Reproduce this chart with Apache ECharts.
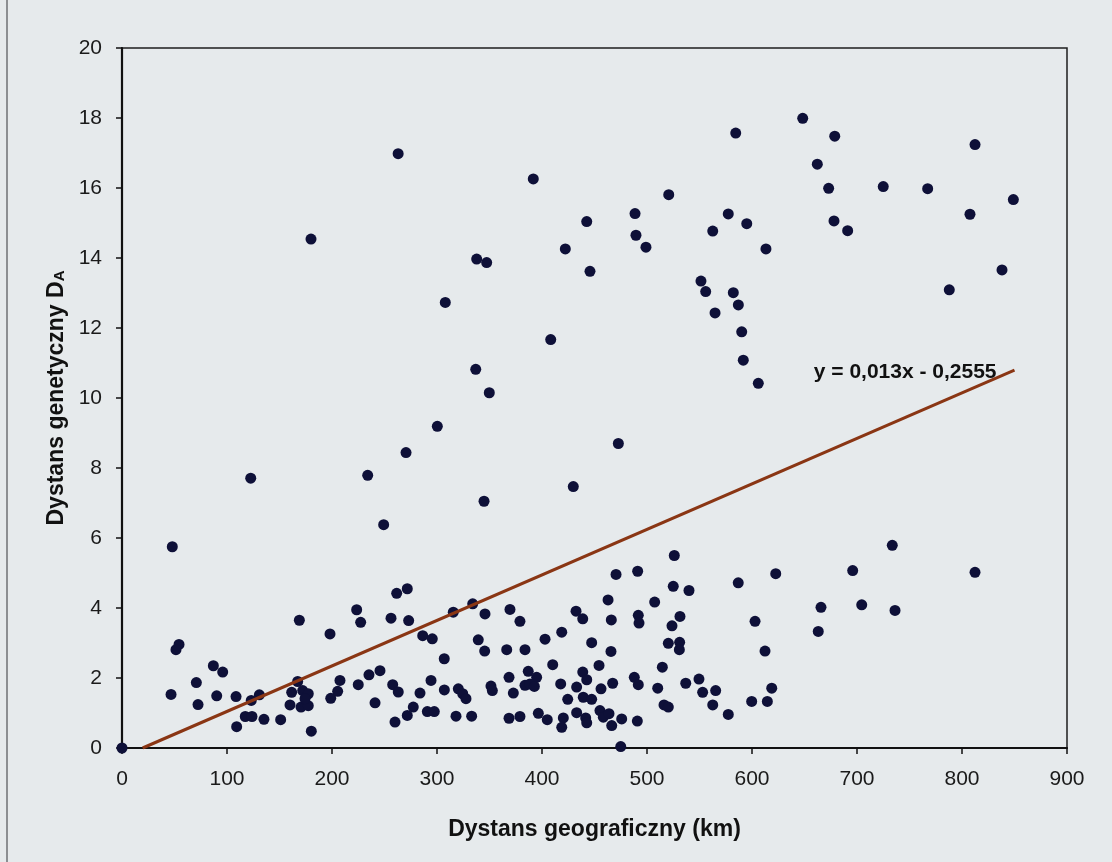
<!DOCTYPE html>
<html>
<head>
<meta charset="utf-8">
<title>Dystans genetyczny a dystans geograficzny</title>
<script src="https://cdn.jsdelivr.net/npm/echarts@6/dist/echarts.min.js"></script>
<style>
  html, body { margin: 0; padding: 0; background: #e6eaec; }
  #chart { width: 1112px; height: 862px; }
</style>
</head>
<body>
<div id="chart"></div>
<script>
// Pairwise distances between populations: geographic (km) vs genetic D_A
const distanceKm = [
  263, 180, 584.5, 391.7, 520.7, 442.6, 488.6, 489.5, 499, 577.4,
  595, 562.6, 613.3, 422.2, 337.8, 347.3, 445.7, 551.4, 555.9, 582.2,
  648.3, 678.8, 812.4, 662.2, 673, 725, 767.3, 848.9, 807.6, 678.1,
  691.1, 838.1, 787.9,
  307.9, 300.3, 270.5, 234, 122.6, 249.2, 408.3, 336.9, 349.8, 472.7,
  429.8, 344.8, 587, 564.8, 590.2, 591.7, 606,
  47.9, 54.3, 51.4, 168.9, 198.1, 87, 95.9, 70.8, 46.7, 72.4,
  90.2, 108.6, 123.1, 130.8, 117.4, 123.8, 109.2, 135.2, 151.1, 180.3,
  0, 167.3, 161.6, 172.1, 177.4, 160, 170.5, 177.4, 174.3, 207.6,
  198.8, 205.4,
  261.6, 271.7, 223.5, 227.3, 256.2, 273, 286.4, 295.5, 315.5, 334,
  345.7, 369.5, 379, 339.3, 345.4, 366.4, 383.8, 402.9, 306.9, 410.2,
  235.2, 245.7, 225, 257.8, 263.1, 241, 294.3, 283.8, 307, 320.3,
  324.5, 327.6, 351.4, 352.7, 368.6, 372.7, 386.9, 394.9, 383.8, 388.6,
  392.7, 277.4, 271.7, 260, 290.8, 297.4, 318.1, 333, 368.6, 379,
  396.5, 405,
  526, 470.5, 491.1, 622.6, 586.9, 525, 540, 462.9, 507.3, 432.4,
  438.8, 466, 491.7, 492.4, 531.4, 523.8, 602.9, 418.8, 447.3, 465.7,
  520.3, 531.1, 530.8, 612.4, 454.3, 514.6, 438.8, 442.6, 417.8, 433,
  467.3, 456.2, 487.9, 491.7, 510.2, 536.9, 549.5, 553, 565.4, 618.8,
  424.5, 439.3, 447.3, 516.2, 520.3, 562.6, 599.7, 614.6, 420.3, 418.8,
  433, 441.6, 442.6, 455.2, 458.4, 463.8, 466.4, 475.9, 490.8, 577.4,
  475,
  733.6, 695.9, 812.4, 665.7, 704.5, 736.2, 663.1
];

const geneticDA = [
  16.98, 14.54, 17.57, 16.26, 15.81, 15.04, 15.27, 14.65, 14.31, 15.26,
  14.98, 14.77, 14.26, 14.26, 13.97, 13.87, 13.62, 13.34, 13.04, 13.01,
  17.99, 17.48, 17.24, 16.68, 15.99, 16.04, 15.98, 15.67, 15.25, 15.06,
  14.78, 13.66, 13.09,
  12.73, 9.19, 8.44, 7.79, 7.71, 6.38, 11.67, 10.82, 10.15, 8.70,
  7.47, 7.05, 12.66, 12.43, 11.89, 11.08, 10.42,
  5.75, 2.96, 2.81, 3.65, 3.26, 2.35, 2.17, 1.87, 1.53, 1.24,
  1.49, 1.47, 1.36, 1.52, 0.90, 0.90, 0.61, 0.82, 0.81, 0.48,
  0, 1.90, 1.59, 1.64, 1.55, 1.23, 1.17, 1.21, 1.41, 1.93,
  1.42, 1.62,
  4.42, 4.55, 3.95, 3.59, 3.71, 3.64, 3.21, 3.12, 3.88, 4.12,
  3.83, 3.96, 3.62, 3.09, 2.77, 2.81, 2.81, 3.11, 2.55, 2.38,
  2.09, 2.21, 1.81, 1.81, 1.60, 1.29, 1.93, 1.57, 1.66, 1.69,
  1.55, 1.41, 1.77, 1.64, 2.02, 1.57, 2.19, 2.02, 1.79, 1.83,
  1.76, 1.17, 0.93, 0.74, 1.04, 1.04, 0.91, 0.91, 0.85, 0.90,
  0.99, 0.81,
  5.50, 4.96, 5.05, 4.98, 4.72, 4.62, 4.50, 4.23, 4.17, 3.91,
  3.69, 3.66, 3.79, 3.57, 3.76, 3.49, 3.62, 3.31, 3.01, 2.76,
  2.99, 3.02, 2.81, 2.77, 2.36, 2.31, 2.17, 1.95, 1.83, 1.74,
  1.85, 1.69, 2.02, 1.81, 1.71, 1.85, 1.97, 1.59, 1.64, 1.71,
  1.39, 1.45, 1.39, 1.23, 1.17, 1.23, 1.33, 1.33, 0.86, 0.59,
  1.01, 0.86, 0.72, 1.07, 0.88, 0.98, 0.64, 0.83, 0.77, 0.96,
  0.04,
  5.79, 5.07, 5.02, 4.02, 4.09, 3.93, 3.33
];

// Linear trend y = a*x + b, drawn from the zero crossing to the last x
const trendSlope = 0.013;
const trendIntercept = -0.2555;
const trendEndKm = 850;
const trendLabel = 'y = 0,013x - 0,2555';

const xTicks = { min: 0, max: 900, interval: 100 };
const yTicks = { min: 0, max: 20, interval: 2 };

const xTitle = 'Dystans geograficzny (km)';
const yTitleMain = 'Dystans genetyczny D';
const yTitleSub = 'A';

const points = distanceKm.map((x, i) => [x, geneticDA[i]]);
const trendStartKm = -trendIntercept / trendSlope;
const trendLine = [
  [trendStartKm, trendSlope * trendStartKm + trendIntercept],
  [trendEndKm, trendSlope * trendEndKm + trendIntercept]
];

const font = '"Liberation Sans", Arial, sans-serif';
const ink = '#111111';
const chart = echarts.init(document.getElementById('chart'), null, { renderer: 'canvas' });

chart.setOption({
  animation: false,
  backgroundColor: '#e6eaec',
  grid: {
    left: 122, right: 45, top: 48, bottom: 114,
    show: true,
    borderColor: '#1e1e1e',
    borderWidth: 1.5,
    backgroundColor: 'transparent'
  },
  xAxis: {
    type: 'value',
    min: xTicks.min, max: xTicks.max, interval: xTicks.interval,
    name: xTitle,
    nameLocation: 'middle',
    nameGap: 70,
    nameTextStyle: { fontFamily: font, fontWeight: 'bold', fontSize: 23, color: ink },
    axisLine: { show: true, onZero: false, lineStyle: { color: ink, width: 2.2 } },
    axisTick: { show: true, inside: false, length: 6, lineStyle: { color: ink, width: 1.5 } },
    axisLabel: { margin: 21, fontFamily: font, fontSize: 21, color: '#1a1a1a' },
    splitLine: { show: false }
  },
  yAxis: {
    type: 'value',
    min: yTicks.min, max: yTicks.max, interval: yTicks.interval,
    name: '{m|' + yTitleMain + '}{s|' + yTitleSub + '}',
    nameLocation: 'middle',
    nameGap: 46,
    nameRotate: 90,
    nameTextStyle: {
      fontFamily: font, fontWeight: 'bold', fontSize: 23, color: ink,
      rich: {
        m: { fontFamily: font, fontWeight: 'bold', fontSize: 23, color: ink, lineHeight: 28, verticalAlign: 'bottom' },
        s: { fontFamily: font, fontWeight: 'bold', fontSize: 15, color: ink, lineHeight: 22, verticalAlign: 'bottom' }
      }
    },
    axisLine: { show: true, onZero: false, lineStyle: { color: ink, width: 2.2 } },
    axisTick: { show: true, inside: false, length: 6, lineStyle: { color: ink, width: 1.5 } },
    axisLabel: { margin: 20, fontFamily: font, fontSize: 21, color: '#1a1a1a' },
    splitLine: { show: false }
  },
  series: [
    {
      type: 'scatter',
      data: points,
      symbol: 'circle',
      symbolSize: 11,
      itemStyle: { color: '#0e1038', opacity: 1 },
      z: 2
    },
    {
      type: 'line',
      data: trendLine,
      showSymbol: false,
      symbol: 'none',
      lineStyle: { color: '#8a3614', width: 3 },
      endLabel: {
        show: true,
        formatter: trendLabel,
        align: 'right',
        verticalAlign: 'middle',
        distance: 0,
        offset: [-18, 2],
        fontFamily: font,
        fontWeight: 'bold',
        fontSize: 21,
        color: ink
      },
      z: 3
    }
  ],
  graphic: [
    {
      type: 'line',
      shape: { x1: 7, y1: 0, x2: 7, y2: 862 },
      style: { stroke: '#6e7174', lineWidth: 1.5 },
      silent: true
    }
  ]
});
</script>
</body>
</html>
